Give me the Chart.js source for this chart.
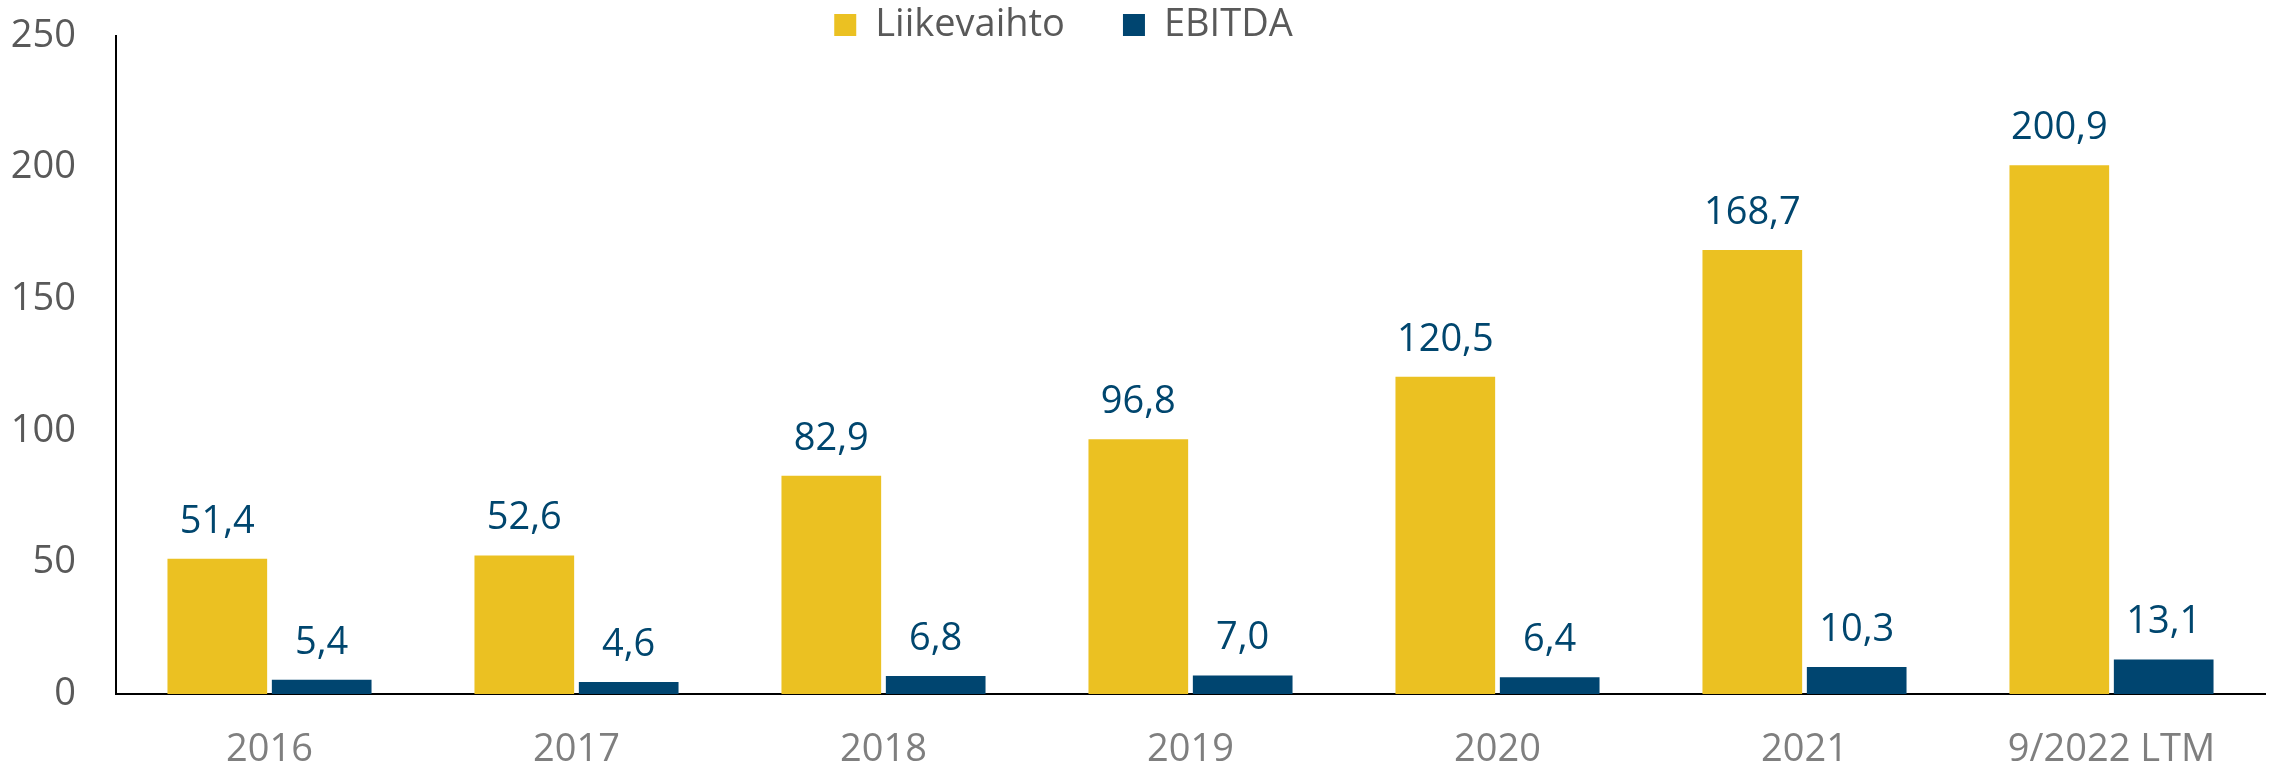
<!DOCTYPE html>
<html>
<head>
<meta charset="utf-8">
<script src="https://cdn.jsdelivr.net/npm/chart.js@4/dist/chart.umd.min.js"></script>
<style>
    html, body { margin: 0; padding: 0; background: #fff; }
    .wrap { width: 2277px; height: 767px; }
</style>
</head>
<body>
<div class="wrap"><canvas id="statChart"></canvas></div>
<script>
/* chart data */
const categories = ['2016', '2017', '2018', '2019', '2020', '2021', '9/2022 LTM'];
const liikevaihto = [51.4, 52.6, 82.9, 96.8, 120.5, 168.7, 200.9];
const ebitda = [5.4, 4.6, 6.8, 7.0, 6.4, 10.3, 13.1];
const yTicks = [0, 50, 100, 150, 200, 250];

const labelFont = '"Open Sans", "Noto Sans", sans-serif';

// value labels above each bar, finnish decimal comma
const valueLabels = {
    id: 'valueLabels',
    afterDatasetsDraw(chart) {
        const ctx = chart.ctx;
        ctx.save();
        ctx.font = '38px ' + labelFont;
        ctx.fillStyle = '#00466e';
        ctx.textAlign = 'center';
        ctx.textBaseline = 'middle';
        chart.data.datasets.forEach(function(ds, i) {
            chart.getDatasetMeta(i).data.forEach(function(bar, j) {
                ctx.fillText(ds.data[j].toFixed(1).replace('.', ','), bar.x, bar.y - 37);
            });
        });
        ctx.restore();
    }
};

// legend sits above the plot without taking layout space
const legendShift = {
    id: 'legendShift',
    beforeLayout(chart) {
        const lg = chart.legend;
        if (lg && !lg._noSpace) {
            const fit = lg.fit;
            lg.fit = function() {
                fit.call(this);
                this.height = 0;
            };
            lg._noSpace = true;
        }
    },
    afterLayout(chart) {
        const lg = chart.legend;
        const dx = -69;
        lg.left += dx; lg.right += dx;
        lg.top = -52; lg.bottom = lg.top + 200;
    }
};

const ctx = document.getElementById('statChart').getContext('2d');
const chart = new Chart(ctx, {
    type: 'bar',
    data: {
        labels: categories,
        datasets: [{
            label: 'Liikevaihto',
            backgroundColor: '#ebc122',
            data: liikevaihto
        }, {
            label: 'EBITDA',
            backgroundColor: '#004570',
            data: ebitda
        }]
    },
    options: {
        responsive: true,
        maintainAspectRatio: false,
        animation: false,
        categoryPercentage: 0.68,
        barPercentage: 0.955,
        layout: {
            padding: { left: 0, right: 12, top: 36, bottom: 0 }
        },
        plugins: {
            tooltip: { enabled: false },
            legend: {
                position: 'top',
                align: 'center',
                labels: {
                    boxWidth: 22,
                    boxHeight: 22,
                    padding: 58,
                    color: '#595959',
                    font: { family: labelFont, size: 38 }
                }
            }
        },
        scales: {
            x: {
                afterFit(axis) { axis.height = 73; },
                grid: { display: false, drawTicks: false },
                border: { display: true, color: '#000', width: 2 },
                ticks: {
                    color: '#7f7f7f',
                    padding: 33,
                    font: { family: labelFont, size: 38 }
                }
            },
            y: {
                min: 0,
                max: 250,
                afterBuildTicks(axis) {
                    axis.ticks = yTicks.map(function(v) { return { value: v }; });
                },
                afterFit(axis) {
                    axis.width = 116;
                    axis.paddingTop = 0;
                    axis.paddingBottom = 0;
                },
                grid: { display: false, drawTicks: false },
                border: { display: true, color: '#000', width: 2 },
                ticks: {
                    color: '#595959',
                    padding: 40,
                    font: { family: labelFont, size: 38 }
                }
            }
        }
    },
    plugins: [valueLabels, legendShift]
});
</script>
</body>
</html>
